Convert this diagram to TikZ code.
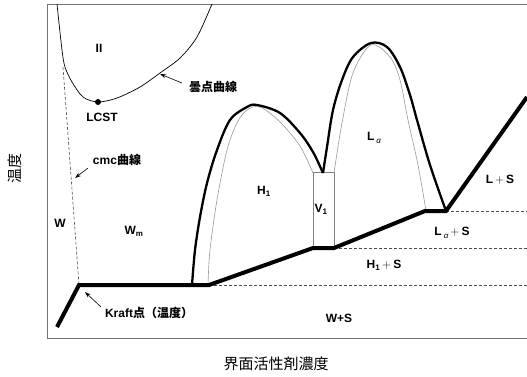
\documentclass[tikz,border=0pt]{standalone}
\usepackage{fontspec}
\setmainfont{Liberation Sans}
\newfontfamily\jp{Noto Sans CJK JP}
\usetikzlibrary{arrows.meta}
\tikzset{
  lab/.style={font=\bfseries\fontsize{12}{12}\selectfont, inner sep=0pt},
  jplab/.style={font=\bfseries\fontsize{12}{12}\selectfont, inner sep=0pt},
  axlab/.style={font=\jp\fontsize{15}{15}\selectfont, inner sep=0pt},
  phase/.style={line width=2.3pt, line join=round},
  base/.style={line width=4pt, line join=miter},
  innerline/.style={black!40, line width=0.6pt},
  guide/.style={dash pattern=on 3pt off 2pt, line width=0.6pt, black!70},
  frame/.style={black!55, line width=1pt},
  ptr/.style={-{Stealth[length=6pt,width=4pt]}, line width=0.6pt},
}
\newcommand{\plusS}{\,{\mdseries$+$}\,}
\begin{document}
\begin{tikzpicture}[x=1pt,y=-1pt]
\useasboundingbox (0,0) rectangle (527,376);
% frame
\draw[frame] (527,4) -- (47,4) -- (47,338) -- (527,338);
% key points of the solubility line
\coordinate (k0) at (57,327);
\coordinate (k1) at (79,285);
\coordinate (k2) at (209,285);
\coordinate (k3) at (313,248);
\coordinate (k4) at (334,248);
\coordinate (k5) at (425,211);
\coordinate (k6) at (446,211);
\coordinate (k7) at (527,97);
\coordinate (e1) at (527,285);
\coordinate (e2) at (527,248);
\coordinate (e3) at (527,211);
% dashed tie lines
\draw[guide] (k2) -- (e1);
\draw[guide] (k4) -- (e2);
\draw[guide] (k6) -- (e3);
% cmc curve (dashed)
\coordinate (c0) at (63,67);
\draw[guide] (c0) -- (k1);
% V1 box
\node[draw=black!50, line width=0.8pt, minimum width=21pt, minimum height=75pt, inner sep=0pt, anchor=south west] (vbox) at (313,248) {};
% inner grey boundaries
\draw[innerline] plot[smooth, tension=0.55] coordinates {(208,285) (210,250) (217,200) (227,150) (237,123) (247,110) (260,107) (280,122) (300,146) (313,173)};
\draw[innerline] plot[smooth, tension=0.55] coordinates {(334,173) (342,123) (353,73) (371,45) (390,57) (400,80) (408,120) (418,165) (426,211)};
% thick phase boundaries
\draw[phase] plot[smooth, tension=0.55] coordinates {(192,285) (195,250) (200,217) (207,183) (217,150) (230,120) (247,107) (257,105) (280,113) (300,133) (313,152) (323,173)};
\draw[phase] plot[smooth, tension=0.55] coordinates {(323,173) (327,147) (333,110) (342,80) (353,57) (371,43) (387,47) (400,67) (410,95) (417,120) (430,165) (446,211)};
% solubility (Kraft) line
\draw[base] (k0) -- (k1) -- (k2) -- (k3) -- (k4) -- (k5) -- (k6) -- (k7);
% cloud point curve
\draw[line width=0.7pt] plot[smooth, tension=0.5] coordinates {(57,4) (62,50) (65,67) (72,82) (83,97) (98,102) (117,98) (140,87) (160,73) (180,58) (197,37) (212,4)};
\fill (98,102) circle (3pt);
% labels
\node[lab] (ii) at (99,48) {II};
\node[lab] (lcst) at (102,117) {LCST};
\node[jplab] (cloud) at (213,87) {{\jp 曇点曲線}};
\node[jplab] (cmc) at (117,160) {cmc{\jp 曲線}};
\node[lab] (w) at (60,223) {W};
\node[lab] (wm) at (134,231) {W\textsubscript{m}};
\node[lab] (h1) at (264,191) {H\textsubscript{1}};
\node[lab] (v1) at (321,209) {V\textsubscript{1}};
\node[lab] (la) at (374,138) {L\,\raisebox{-2.5pt}{\mdseries\itshape\fontsize{8}{8}\selectfont α}};
\node[lab] (ls) at (500,180) {L\plusS S};
\node[lab] (las) at (452,233) {L\,\raisebox{-2.5pt}{\mdseries\itshape\fontsize{8}{8}\selectfont α}\plusS S};
\node[lab] (h1s) at (384,265) {H\textsubscript{1}\plusS S};
\node[lab] (ws) at (339,318) {W+S};
\node[jplab] (kraft) at (149,313) {Kraft{\jp 点（温度）}};
\node[axlab, rotate=90] (ylab) at (15,168) {温度};
\node[axlab] (xlab) at (276,364) {界面活性剤濃度};
% pointers
\coordinate (t1) at (182,83);
\coordinate (p1) at (160,74);
\draw[ptr] (t1) -- (p1);
\coordinate (t2) at (88,168);
\coordinate (p2) at (75,178);
\draw[ptr] (t2) -- (p2);
\coordinate (t3) at (101,307);
\coordinate (p3) at (85,292);
\draw[ptr] (t3) -- (p3);
\end{tikzpicture}
\end{document}
